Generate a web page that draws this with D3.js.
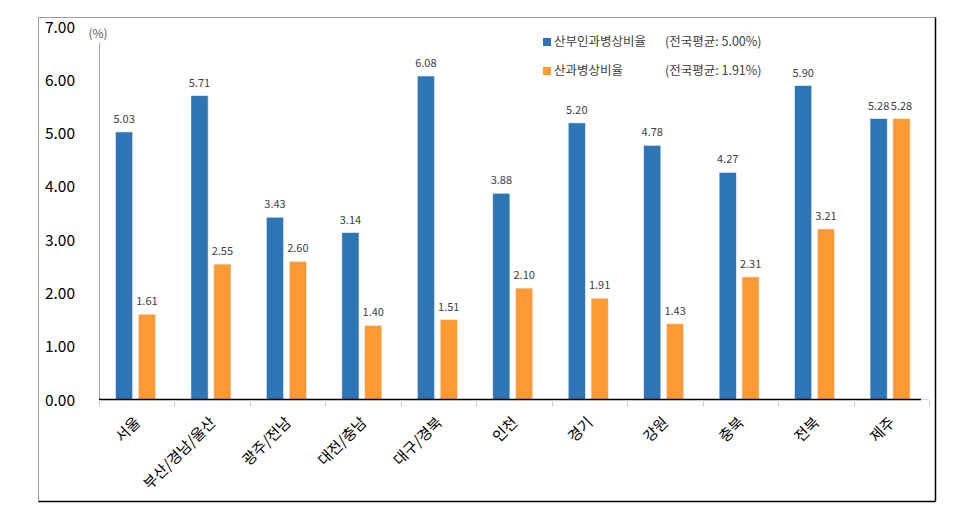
<!DOCTYPE html>
<html><head><meta charset="utf-8">
<script src="https://cdn.jsdelivr.net/npm/d3@7"></script>
<style>body{margin:0;background:#fff;} text{font-family:"Noto Sans CJK KR","Noto Sans",sans-serif;}</style>
</head><body>
<svg id="c" width="979" height="519"></svg>
<script>
const categories = ["서울","부산/경남/울산","광주/전남","대전/충남","대구/경북","인천","경기","강원","충북","전북","제주"];
const obgynRatio = [5.03,5.71,3.43,3.14,6.08,3.88,5.20,4.78,4.27,5.90,5.28];
const obstetricsRatio = [1.61,2.55,2.60,1.40,1.51,2.10,1.91,1.43,2.31,3.21,5.28];
const seriesNames = ["산부인과병상비율","산과병상비율"];
const seriesNotes = ["(전국평균: 5.00%)","(전국평균: 1.91%)"];
const yTicks = [0,1,2,3,4,5,6,7];
const colors = ["#2E75B6","#FF9933"];

const svg = d3.select("#c");
// frame
svg.append("line").attr("x1",38.5).attr("y1",17.5).attr("x2",935.5).attr("y2",17.5).attr("stroke","#9a9a9a");
svg.append("line").attr("x1",38.5).attr("y1",17.5).attr("x2",38.5).attr("y2",501.5).attr("stroke","#9a9a9a");
svg.append("line").attr("x1",38.5).attr("y1",501.5).attr("x2",935.5).attr("y2",501.5).attr("stroke","#000").attr("stroke-width",1.5);
svg.append("line").attr("x1",935.5).attr("y1",17.5).attr("x2",935.5).attr("y2",501.5).attr("stroke","#000").attr("stroke-width",1.5);

const x = d3.scaleBand().domain(categories).range([99,929]).paddingInner(0).paddingOuter(0);
const xs = d3.scaleBand().domain([0,1]).range([16.5,56.5]).paddingInner(0.25);
const y = d3.scaleLinear().domain([0,7]).range([400,27]);

// y tick labels
svg.append("g").selectAll("text").data(yTicks).join("text")
  .attr("x",75).attr("y",d=>y(d)).attr("dy","0.36em").attr("text-anchor","end")
  .attr("font-size",15.5).attr("fill","#000").text(d=>d.toFixed(2));
svg.append("text").attr("x",98).attr("y",34).attr("dy","0.35em").attr("text-anchor","middle")
  .attr("font-size",12).attr("fill","#595959").text("(%)");
// y axis line
svg.append("line").attr("x1",99.5).attr("x2",99.5).attr("y1",43).attr("y2",400).attr("stroke","#a6a6a6");

// bars
const data = [obgynRatio, obstetricsRatio];
data.forEach((vals,si)=>{
  const g = svg.append("g");
  g.selectAll("rect").data(vals).join("rect")
    .attr("x",(d,i)=>x(categories[i])+xs(si)).attr("width",xs.bandwidth())
    .attr("y",d=>y(d)).attr("height",d=>y(0)-y(d))
    .attr("fill",colors[si]).attr("stroke","#e8eef6").attr("stroke-width",0.6);
  g.selectAll("text").data(vals).join("text")
    .attr("x",(d,i)=>x(categories[i])+xs(si)+xs.bandwidth()/2).attr("y",d=>y(d)-9)
    .attr("text-anchor","middle").attr("font-size",11).attr("fill","#404040").text(d=>d.toFixed(2));
});

// x axis
const xAxis = svg.append("g");
xAxis.append("line").attr("x1",99).attr("x2",921).attr("y1",399.5).attr("y2",399.5).attr("stroke","#000").attr("stroke-width",1.5);
xAxis.append("line").attr("x1",921).attr("x2",929).attr("y1",399.5).attr("y2",399.5).attr("stroke","#d9d9d9");
const bounds = categories.map(c=>x(c)).concat([x.range()[1]]);
xAxis.selectAll("line.t").data(bounds).join("line").attr("class","t")
  .attr("x1",d=>Math.round(d)+0.5).attr("x2",d=>Math.round(d)+0.5).attr("y1",400).attr("y2",406).attr("stroke","#d0d0d0");
xAxis.selectAll("text").data(categories).join("text")
  .attr("transform",d=>`translate(${x(d)+x.bandwidth()/2-3},${416}) rotate(-45)`)
  .attr("text-anchor","end").attr("dy","0.7em").attr("font-size",15).attr("fill","#000").text(d=>d);

// legend
const leg = svg.append("g");
[0,1].forEach(i=>{
  const cy = 42 + i*29;
  leg.append("rect").attr("x",543).attr("y",cy-4).attr("width",8).attr("height",8).attr("fill",colors[i]);
  leg.append("text").attr("x",554).attr("y",cy).attr("dy","0.35em").attr("font-size",12.5).attr("fill","#404040").text(seriesNames[i]);
  leg.append("text").attr("x",665).attr("y",cy).attr("dy","0.35em").attr("font-size",12.5).attr("fill","#404040").text(seriesNotes[i]);
});
</script>
</body></html>
